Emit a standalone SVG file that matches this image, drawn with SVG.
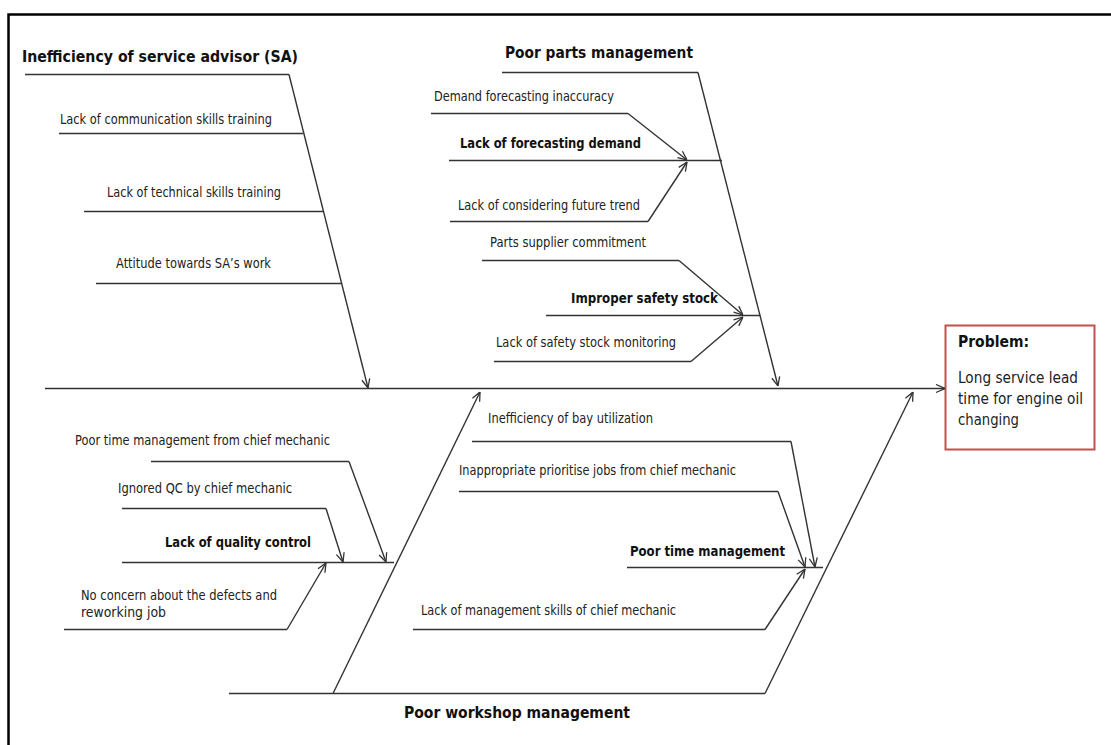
<svg xmlns="http://www.w3.org/2000/svg" width="1111" height="745" viewBox="0 0 1111 745">
  <style>
    .ln { stroke: #333; stroke-width: 1.4; fill: none; }
    .t { font-family: "DejaVu Sans", Verdana, sans-serif; font-size: 13.5px; fill: #222; }
    .tb { font-family: "DejaVu Sans", Verdana, sans-serif; font-size: 13.5px; font-weight: bold; fill: #111; }
    .th { font-family: "DejaVu Sans", Verdana, sans-serif; font-size: 16px; font-weight: bold; fill: #111; }
    .tp { font-family: "DejaVu Sans", Verdana, sans-serif; font-size: 15px; fill: #222; }
  </style>
  <defs>
    <marker id="arr" viewBox="0 0 10 10" refX="10" refY="5" markerWidth="10" markerHeight="10" markerUnits="userSpaceOnUse" orient="auto">
      <path d="M1,1 L10,5 L1,9" fill="none" stroke="#333" stroke-width="1.3"/>
    </marker>
  </defs>

  <rect width="1111" height="745" fill="#fff"/>
  <!-- frame -->
  <rect x="8.5" y="14.5" width="1120" height="760" fill="none" stroke="#000" stroke-width="2.5"/>

  <!-- effect box -->
  <g id="problem">
    <rect x="945.5" y="325.5" width="149" height="124" fill="#fff" stroke="#c0504d" stroke-width="2"/>
    <text class="th" x="958" y="347" font-size="15" textLength="71" lengthAdjust="spacingAndGlyphs">Problem:</text>
    <text class="tp" x="958" y="383" textLength="120" lengthAdjust="spacingAndGlyphs">Long service lead</text>
    <text class="tp" x="958" y="404" textLength="125" lengthAdjust="spacingAndGlyphs">time for engine oil</text>
    <text class="tp" x="958" y="425" textLength="61" lengthAdjust="spacingAndGlyphs">changing</text>
  </g>

  <!-- category: service advisor -->
  <g id="sa">
    <text class="th" x="22" y="62" textLength="276" lengthAdjust="spacingAndGlyphs">Inefficiency of service advisor (SA)</text>
    <line class="ln" x1="25" y1="74.5" x2="289" y2="74.5"/>
  </g>
  <g id="sa-comm">
    <text class="t" x="60" y="124" textLength="212" lengthAdjust="spacingAndGlyphs">Lack of communication skills training</text>
    <line class="ln" x1="59" y1="133.5" x2="303" y2="133.5"/>
  </g>
  <g id="sa-tech">
    <text class="t" x="107" y="197" textLength="174" lengthAdjust="spacingAndGlyphs">Lack of technical skills training</text>
    <line class="ln" x1="84" y1="211.5" x2="323" y2="211.5"/>
  </g>
  <g id="sa-attitude">
    <text class="t" x="116" y="268" textLength="155" lengthAdjust="spacingAndGlyphs">Attitude towards SA’s work</text>
    <line class="ln" x1="96" y1="283.5" x2="342" y2="283.5"/>
  </g>

  <!-- category: parts -->
  <g id="parts">
    <text class="th" x="505" y="58" textLength="188" lengthAdjust="spacingAndGlyphs">Poor parts management</text>
    <line class="ln" x1="502" y1="72.5" x2="698" y2="72.5"/>
  </g>
  <g id="parts-demand">
    <text class="t" x="434" y="101" textLength="180" lengthAdjust="spacingAndGlyphs">Demand forecasting inaccuracy</text>
    <line class="ln" x1="431" y1="113.5" x2="628" y2="113.5"/>
  </g>
  <g id="parts-forecast">
    <text class="tb" x="460" y="148" textLength="181" lengthAdjust="spacingAndGlyphs">Lack of forecasting demand</text>
    <line class="ln" x1="449" y1="160.5" x2="722" y2="160.5"/>
  </g>
  <g id="parts-trend">
    <text class="t" x="458" y="210" textLength="182" lengthAdjust="spacingAndGlyphs">Lack of considering future trend</text>
    <line class="ln" x1="450" y1="221.5" x2="648" y2="221.5"/>
  </g>
  <g id="parts-supplier">
    <text class="t" x="490" y="247" textLength="156" lengthAdjust="spacingAndGlyphs">Parts supplier commitment</text>
    <line class="ln" x1="482" y1="260.5" x2="679" y2="260.5"/>
  </g>
  <g id="parts-safety">
    <text class="tb" x="571" y="303" textLength="147" lengthAdjust="spacingAndGlyphs">Improper safety stock</text>
    <line class="ln" x1="546" y1="315.5" x2="760" y2="315.5"/>
  </g>
  <g id="parts-monitor">
    <text class="t" x="496" y="347" textLength="180" lengthAdjust="spacingAndGlyphs">Lack of safety stock monitoring</text>
    <line class="ln" x1="494" y1="361.5" x2="691" y2="361.5"/>
  </g>

  <!-- category: workshop -->
  <g id="workshop">
    <text class="th" x="404" y="718" textLength="226" lengthAdjust="spacingAndGlyphs">Poor workshop management</text>
    <line class="ln" x1="229" y1="693.5" x2="765" y2="693.5"/>
  </g>
  <g id="ws-chief-time">
    <text class="t" x="75" y="445" textLength="255" lengthAdjust="spacingAndGlyphs">Poor time management from chief mechanic</text>
    <line class="ln" x1="151" y1="461.5" x2="349" y2="461.5"/>
  </g>
  <g id="ws-qc-ignored">
    <text class="t" x="118" y="493" textLength="174" lengthAdjust="spacingAndGlyphs">Ignored QC by chief mechanic</text>
    <line class="ln" x1="122" y1="508.5" x2="326" y2="508.5"/>
  </g>
  <g id="ws-qc">
    <text class="tb" x="165" y="547" textLength="146" lengthAdjust="spacingAndGlyphs">Lack of quality control</text>
    <line class="ln" x1="122" y1="562.5" x2="394" y2="562.5"/>
  </g>
  <g id="ws-defects">
    <text class="t" x="81" y="600" textLength="196" lengthAdjust="spacingAndGlyphs">No concern about the defects and</text>
    <text class="t" x="81" y="617" textLength="85" lengthAdjust="spacingAndGlyphs">reworking  job</text>
    <line class="ln" x1="64" y1="629.5" x2="287" y2="629.5"/>
  </g>
  <g id="ws-bay">
    <text class="t" x="488" y="423" textLength="165" lengthAdjust="spacingAndGlyphs">Inefficiency of bay utilization</text>
    <line class="ln" x1="472" y1="441.5" x2="791" y2="441.5"/>
  </g>
  <g id="ws-prioritise">
    <text class="t" x="459" y="475" textLength="277" lengthAdjust="spacingAndGlyphs">Inappropriate prioritise jobs from chief mechanic</text>
    <line class="ln" x1="459" y1="491.5" x2="778" y2="491.5"/>
  </g>
  <g id="ws-time">
    <text class="tb" x="630" y="556" textLength="155" lengthAdjust="spacingAndGlyphs">Poor time management</text>
    <line class="ln" x1="627" y1="567.5" x2="823" y2="567.5"/>
  </g>
  <g id="ws-skills">
    <text class="t" x="421" y="615" textLength="255" lengthAdjust="spacingAndGlyphs">Lack of management skills of chief mechanic</text>
    <line class="ln" x1="413" y1="629.5" x2="765" y2="629.5"/>
  </g>

  <!-- spine and bones -->
  <g id="connectors" class="ln">
    <line x1="45" y1="388.5" x2="945" y2="388.5" marker-end="url(#arr)"/>
    <!-- service advisor bone -->
    <line x1="289" y1="74.5" x2="368" y2="388" marker-end="url(#arr)"/>
    <!-- parts bone -->
    <line x1="698" y1="72.5" x2="778" y2="386" marker-end="url(#arr)"/>
    <line x1="628" y1="113.5" x2="687" y2="160" marker-end="url(#arr)"/>
    <line x1="648" y1="221.5" x2="687" y2="162" marker-end="url(#arr)"/>
    <line x1="679" y1="260.5" x2="743" y2="315" marker-end="url(#arr)"/>
    <line x1="691" y1="361.5" x2="743" y2="317" marker-end="url(#arr)"/>
    <!-- workshop bones -->
    <line x1="765" y1="693.5" x2="913" y2="392" marker-end="url(#arr)"/>
    <line x1="333" y1="693.5" x2="480" y2="392" marker-end="url(#arr)"/>
    <line x1="349" y1="461.5" x2="386" y2="562" marker-end="url(#arr)"/>
    <line x1="326" y1="508.5" x2="343" y2="562" marker-end="url(#arr)"/>
    <line x1="287" y1="629.5" x2="326" y2="563" marker-end="url(#arr)"/>
    <line x1="791" y1="441.5" x2="815" y2="567" marker-end="url(#arr)"/>
    <line x1="778" y1="491.5" x2="805" y2="567" marker-end="url(#arr)"/>
    <line x1="765" y1="629.5" x2="805" y2="569" marker-end="url(#arr)"/>
  </g>
</svg>
